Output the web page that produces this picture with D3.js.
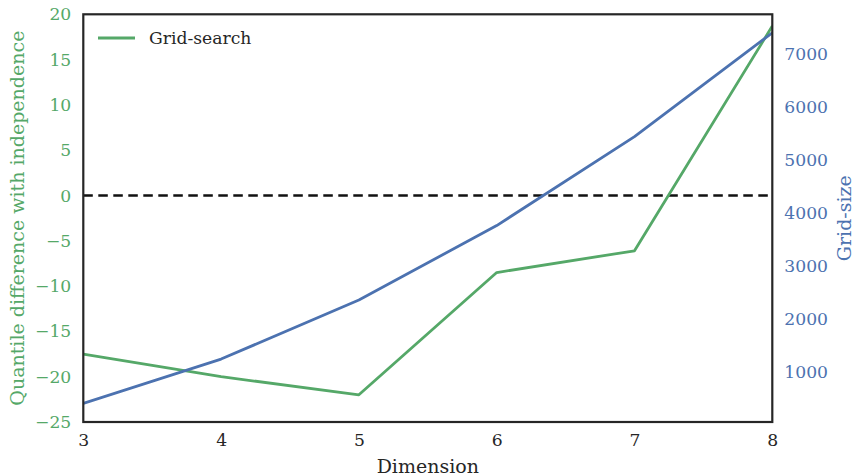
<!DOCTYPE html>
<html>
<head>
<meta charset="utf-8">
<script src="https://cdn.jsdelivr.net/npm/d3@7"></script>
<style>
  html, body { margin: 0; padding: 0; background: #fff; }
  svg { display: block; font-family: "DejaVu Serif", serif; }
</style>
</head>
<body>
<svg id="chart" width="854" height="476"></svg>
<script>
// Dimensions evaluated
const dimensions = [3, 4, 5, 6, 7, 8];
// Quantile difference with independence (left axis)
const quantileDiff = [-17.5, -20.0, -22.0, -8.5, -6.1, 18.7];
// Grid size per dimension (right axis)
const gridSize = [415, 1251, 2364, 3766, 5440, 7396];
// Tick values
const xTicks = [3, 4, 5, 6, 7, 8];
const leftTicks = [-25, -20, -15, -10, -5, 0, 5, 10, 15, 20];
const rightTicks = [1000, 2000, 3000, 4000, 5000, 6000, 7000];

const GREEN = "#55a868", BLUE = "#4c72b0", DARK = "#262626";
const TICK_FS = "17.2px", TITLE_FS = "19px";
const svg = d3.select("#chart");
const m = { left: 83.3, right: 772.3, top: 14.3, bottom: 422 };

const x = d3.scaleLinear().domain([3, 8]).range([m.left, m.right]);
const yL = d3.scaleLinear().domain([-25, 20]).range([m.bottom, m.top]);
const gMin = d3.min(gridSize), gMax = d3.max(gridSize), pad = (gMax - gMin) * 0.05;
const yR = d3.scaleLinear().domain([gMin - pad, gMax + pad]).range([m.bottom, m.top]);

// Reference line at zero
svg.append("line")
  .attr("x1", m.left).attr("x2", m.right)
  .attr("y1", yL(0)).attr("y2", yL(0))
  .attr("stroke", "#111").attr("stroke-width", 2.7)
  .attr("stroke-dasharray", "9.5,5.5");

svg.append("clipPath").attr("id", "plotclip")
  .append("rect").attr("x", m.left).attr("y", m.top)
  .attr("width", m.right - m.left).attr("height", m.bottom - m.top);

const plot = svg.append("g").attr("clip-path", "url(#plotclip)");

plot.append("path")
  .datum(dimensions.map((d, i) => [d, quantileDiff[i]]))
  .attr("fill", "none").attr("stroke", GREEN).attr("stroke-width", 2.8)
  .attr("stroke-linejoin", "round")
  .attr("d", d3.line().x(d => x(d[0])).y(d => yL(d[1])));

plot.append("path")
  .datum(dimensions.map((d, i) => [d, gridSize[i]]))
  .attr("fill", "none").attr("stroke", BLUE).attr("stroke-width", 2.8)
  .attr("stroke-linejoin", "round")
  .attr("d", d3.line().x(d => x(d[0])).y(d => yR(d[1])));

// Axes (no tick marks, labels only)
const fmt = d => (d < 0 ? "\u2212" + Math.abs(d) : String(d));

function styleAxis(g, color) {
  g.select(".domain").remove();
  g.attr("font-family", null).attr("font-size", null);
  g.selectAll("text").attr("fill", color)
    .style("font-size", TICK_FS).style("font-family", "DejaVu Serif");
}

const xAxis = svg.append("g").attr("transform", `translate(0,${m.bottom})`)
  .call(d3.axisBottom(x).tickValues(xTicks).tickSize(0).tickPadding(12).tickFormat(fmt));
styleAxis(xAxis, DARK);

const lAxis = svg.append("g").attr("transform", `translate(${m.left},0)`)
  .call(d3.axisLeft(yL).tickValues(leftTicks).tickSize(0).tickPadding(12).tickFormat(fmt));
styleAxis(lAxis, GREEN);

const rAxis = svg.append("g").attr("transform", `translate(${m.right},0)`)
  .call(d3.axisRight(yR).tickValues(rightTicks).tickSize(0).tickPadding(12).tickFormat(d3.format("d")));
styleAxis(rAxis, BLUE);

// Frame
svg.append("rect")
  .attr("x", m.left).attr("y", m.top)
  .attr("width", m.right - m.left).attr("height", m.bottom - m.top)
  .attr("fill", "none").attr("stroke", DARK).attr("stroke-width", 2.2);

// Axis titles
svg.append("text")
  .attr("x", (m.left + m.right) / 2).attr("y", 473)
  .attr("text-anchor", "middle").attr("fill", DARK)
  .style("font-size", TITLE_FS).text("Dimension");

svg.append("text")
  .attr("transform", `translate(24,${(m.top + m.bottom) / 2}) rotate(-90)`)
  .attr("text-anchor", "middle").attr("fill", GREEN)
  .style("font-size", TITLE_FS).text("Quantile difference with independence");

svg.append("text")
  .attr("transform", `translate(851,${(m.top + m.bottom) / 2}) rotate(-90)`)
  .attr("text-anchor", "middle").attr("fill", BLUE)
  .style("font-size", TITLE_FS).text("Grid-size");

// Legend
const leg = svg.append("g");
leg.append("line").attr("x1", 98).attr("x2", 135).attr("y1", 38).attr("y2", 38)
  .attr("stroke", GREEN).attr("stroke-width", 2.8);
leg.append("text").attr("x", 149).attr("y", 38).attr("dy", "0.35em")
  .attr("fill", DARK).style("font-size", TICK_FS).text("Grid-search");
</script>
</body>
</html>
